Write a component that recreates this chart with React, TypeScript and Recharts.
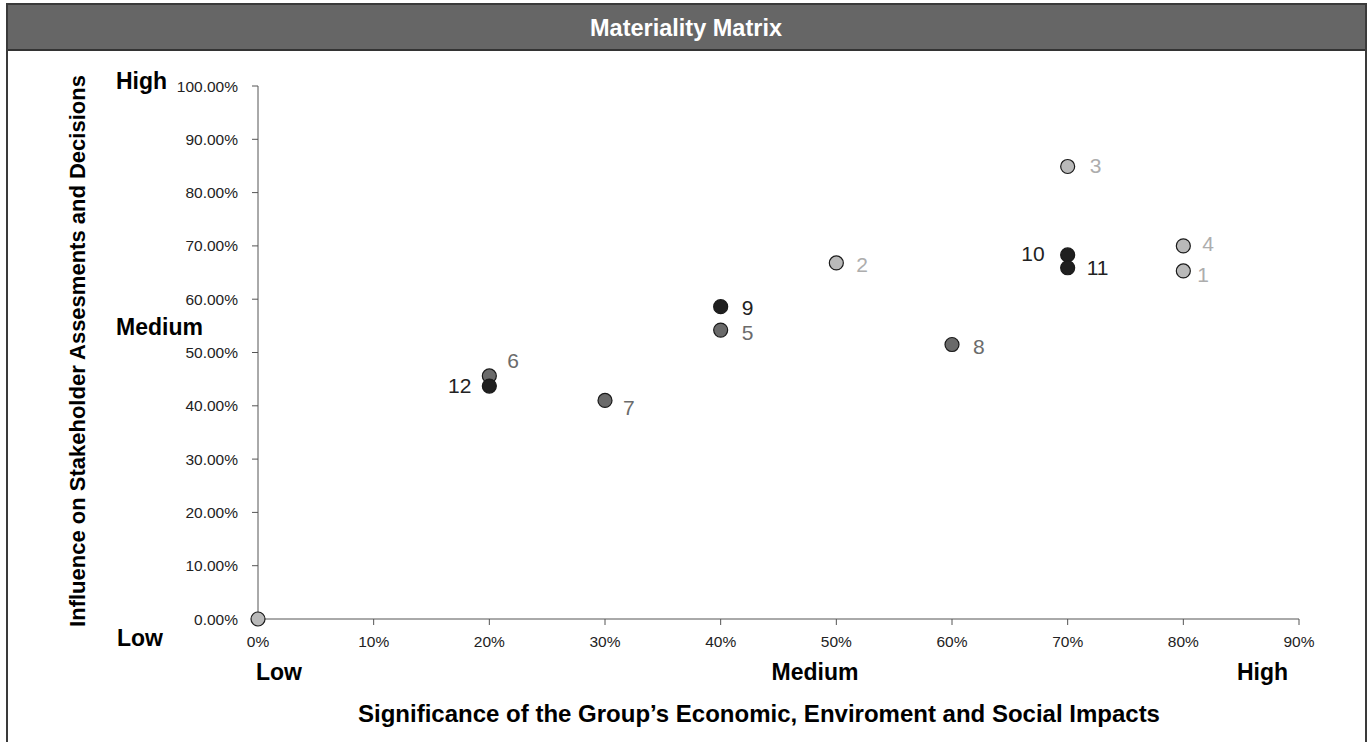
import { Scatter, ScatterChart, XAxis, YAxis } from "recharts";

// materiality issues: id, significance (x), influence (y), shade group
const issueIds = ["1", "2", "3", "4", "5", "6", "7", "8", "9", "10", "11", "12"];
const significance = [0.8, 0.5, 0.7, 0.8, 0.4, 0.2, 0.3, 0.6, 0.4, 0.7, 0.7, 0.2];
const influence = [0.653, 0.668, 0.849, 0.7, 0.542, 0.456, 0.41, 0.515, 0.586, 0.683, 0.659, 0.437];
const groups = ["light", "light", "light", "light", "mid", "mid", "mid", "mid", "dark", "dark", "dark", "dark"];

// unlabeled anchor dot at the origin
const originPoint = { id: "", x: 0, y: 0 };

const xTicks = [0, 0.1, 0.2, 0.3, 0.4, 0.5, 0.6, 0.7, 0.8, 0.9];
const yTicks = [0, 0.1, 0.2, 0.3, 0.4, 0.5, 0.6, 0.7, 0.8, 0.9, 1];

const FONT = '"Liberation Sans", Arial, Helvetica, sans-serif';

const shades: Record<string, { fill: string; text: string }> = {
  light: { fill: "#b9b9b9", text: "#adadad" },
  mid: { fill: "#6a6a6a", text: "#6b6b6b" },
  dark: { fill: "#1f1f1f", text: "#222222" },
};

// where each number sits relative to its dot
const labelPlacement: Record<string, { dx: number; dy: number; anchor: "start" | "end" }> = {
  "1": { dx: 14, dy: 11, anchor: "start" },
  "2": { dx: 20, dy: 9, anchor: "start" },
  "3": { dx: 22, dy: 7, anchor: "start" },
  "4": { dx: 19, dy: 5, anchor: "start" },
  "5": { dx: 21, dy: 10, anchor: "start" },
  "6": { dx: 18, dy: -8, anchor: "start" },
  "7": { dx: 18, dy: 15, anchor: "start" },
  "8": { dx: 21, dy: 9, anchor: "start" },
  "9": { dx: 21, dy: 8, anchor: "start" },
  "10": { dx: -23, dy: 6, anchor: "end" },
  "11": { dx: 19, dy: 7, anchor: "start" },
  "12": { dx: -18, dy: 7, anchor: "end" },
};

const pointsFor = (group: string) =>
  issueIds
    .map((id, i) => ({ id, x: significance[i], y: influence[i], group: groups[i] }))
    .filter((p) => p.group === group);

function makeDot(group: string) {
  const shade = shades[group];
  return (props: any) => {
    const { cx, cy, payload } = props;
    const place = labelPlacement[payload.id];
    return (
      <g>
        <circle cx={cx} cy={cy} r={7} fill={shade.fill} stroke="#1a1a1a" strokeWidth={1.2} />
        {place && (
          <text
            x={cx + place.dx}
            y={cy + place.dy}
            textAnchor={place.anchor}
            fontSize={21}
            fontFamily={FONT}
            fill={shade.text}
          >
            {payload.id}
          </text>
        )}
      </g>
    );
  };
}

const tickStyle = { fill: "#222", fontSize: 15.5, fontFamily: FONT };
const boldText = { fontFamily: FONT, fontWeight: 700, fill: "#000" };

export default function App() {
  return (
    <div style={{ position: "absolute", left: 0, top: 0, width: 1369, height: 742, overflow: "hidden", background: "#fff" }}>
      <div
        style={{
          position: "absolute",
          left: 6,
          top: 3,
          width: 1357,
          height: 800,
          border: "2px solid #3a3a3a",
        }}
      >
        <div
          style={{
            height: 44,
            background: "#666666",
            borderBottom: "2px solid #333",
          }}
        />
      </div>
      <div style={{ position: "absolute", left: 0, top: 0 }}>
        <ScatterChart width={1369} height={742} margin={{ top: 86, right: 70, bottom: 93, left: 158 }}>
          <XAxis
            type="number"
            dataKey="x"
            domain={[0, 0.9]}
            ticks={xTicks}
            tickFormatter={(v: number) => `${Math.round(v * 100)}%`}
            height={30}
            tickSize={6}
            tickMargin={11}
            tick={tickStyle}
            stroke="#555"
            interval={0}
          />
          <YAxis
            type="number"
            dataKey="y"
            domain={[0, 1]}
            ticks={yTicks}
            tickFormatter={(v: number) => `${(v * 100).toFixed(2)}%`}
            width={100}
            tickSize={6}
            tickMargin={14}
            tick={tickStyle}
            stroke="#555"
            interval={0}
          />
          <Scatter data={[originPoint, ...pointsFor("light")]} shape={makeDot("light")} isAnimationActive={false} />
          <Scatter data={pointsFor("mid")} shape={makeDot("mid")} isAnimationActive={false} />
          <Scatter data={pointsFor("dark")} shape={makeDot("dark")} isAnimationActive={false} />
        </ScatterChart>
      </div>
      <svg width={1369} height={742} style={{ position: "absolute", left: 0, top: 0, pointerEvents: "none" }}>
        <text x={686} y={36} textAnchor="middle" fontSize={23.5} fontFamily={FONT} fontWeight={700} fill="#fff">
          Materiality Matrix
        </text>
        {/* vertical scale words */}
        <text x={116} y={89} fontSize={23} {...boldText}>High</text>
        <text x={116} y={335} fontSize={23} {...boldText}>Medium</text>
        <text x={117} y={646} fontSize={23} {...boldText}>Low</text>
        {/* horizontal scale words */}
        <text x={256} y={680} fontSize={23} {...boldText}>Low</text>
        <text x={815} y={680} textAnchor="middle" fontSize={23} {...boldText}>Medium</text>
        <text x={1288} y={680} textAnchor="end" fontSize={23} {...boldText}>High</text>
        <text x={759} y={722} textAnchor="middle" fontSize={24} {...boldText}>
          Significance of the Group’s Economic, Enviroment and Social Impacts
        </text>
        <text
          x={0}
          y={0}
          transform="translate(85 351) rotate(-90)"
          textAnchor="middle"
          fontSize={22}
          {...boldText}
        >
          Influence on Stakeholder Assesments and Decisions
        </text>
      </svg>
    </div>
  );
}
